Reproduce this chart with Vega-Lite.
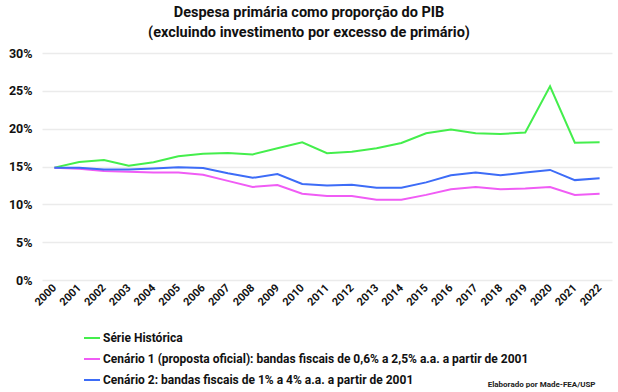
{
  "$schema": "https://vega.github.io/schema/vega-lite/v6.json",
  "width": 570,
  "height": 227,
  "autosize": {"type": "none"},
  "padding": {"left": 42, "top": 53, "right": 6, "bottom": 112},
  "background": "white",
  "title": {
    "text": ["Despesa primária como proporção do PIB", "(excluindo investimento por excesso de primário)"],
    "anchor": "middle",
    "frame": "group",
    "dx": -18,
    "offset": 7,
    "fontSize": 14.5,
    "lineHeight": 20,
    "font": "Roboto",
    "fontWeight": "bold",
    "color": "#111"
  },
  "data": {
    "values": [
      {"ano": "2000", "serie": "Série Histórica", "v": 14.85},
      {"ano": "2001", "serie": "Série Histórica", "v": 15.6},
      {"ano": "2002", "serie": "Série Histórica", "v": 15.85},
      {"ano": "2003", "serie": "Série Histórica", "v": 15.1},
      {"ano": "2004", "serie": "Série Histórica", "v": 15.55},
      {"ano": "2005", "serie": "Série Histórica", "v": 16.35},
      {"ano": "2006", "serie": "Série Histórica", "v": 16.7},
      {"ano": "2007", "serie": "Série Histórica", "v": 16.8},
      {"ano": "2008", "serie": "Série Histórica", "v": 16.6},
      {"ano": "2009", "serie": "Série Histórica", "v": 17.4},
      {"ano": "2010", "serie": "Série Histórica", "v": 18.2},
      {"ano": "2011", "serie": "Série Histórica", "v": 16.75},
      {"ano": "2012", "serie": "Série Histórica", "v": 16.95},
      {"ano": "2013", "serie": "Série Histórica", "v": 17.4},
      {"ano": "2014", "serie": "Série Histórica", "v": 18.1},
      {"ano": "2015", "serie": "Série Histórica", "v": 19.4},
      {"ano": "2016", "serie": "Série Histórica", "v": 19.9},
      {"ano": "2017", "serie": "Série Histórica", "v": 19.4},
      {"ano": "2018", "serie": "Série Histórica", "v": 19.3},
      {"ano": "2019", "serie": "Série Histórica", "v": 19.5},
      {"ano": "2020", "serie": "Série Histórica", "v": 25.6},
      {"ano": "2021", "serie": "Série Histórica", "v": 18.15},
      {"ano": "2022", "serie": "Série Histórica", "v": 18.2},
      {"ano": "2000", "serie": "Cenário 1 (proposta oficial): bandas fiscais de 0,6% a 2,5% a.a. a partir de 2001", "v": 14.85},
      {"ano": "2001", "serie": "Cenário 1 (proposta oficial): bandas fiscais de 0,6% a 2,5% a.a. a partir de 2001", "v": 14.7},
      {"ano": "2002", "serie": "Cenário 1 (proposta oficial): bandas fiscais de 0,6% a 2,5% a.a. a partir de 2001", "v": 14.4},
      {"ano": "2003", "serie": "Cenário 1 (proposta oficial): bandas fiscais de 0,6% a 2,5% a.a. a partir de 2001", "v": 14.3},
      {"ano": "2004", "serie": "Cenário 1 (proposta oficial): bandas fiscais de 0,6% a 2,5% a.a. a partir de 2001", "v": 14.2},
      {"ano": "2005", "serie": "Cenário 1 (proposta oficial): bandas fiscais de 0,6% a 2,5% a.a. a partir de 2001", "v": 14.2},
      {"ano": "2006", "serie": "Cenário 1 (proposta oficial): bandas fiscais de 0,6% a 2,5% a.a. a partir de 2001", "v": 13.9},
      {"ano": "2007", "serie": "Cenário 1 (proposta oficial): bandas fiscais de 0,6% a 2,5% a.a. a partir de 2001", "v": 13.1},
      {"ano": "2008", "serie": "Cenário 1 (proposta oficial): bandas fiscais de 0,6% a 2,5% a.a. a partir de 2001", "v": 12.3},
      {"ano": "2009", "serie": "Cenário 1 (proposta oficial): bandas fiscais de 0,6% a 2,5% a.a. a partir de 2001", "v": 12.55},
      {"ano": "2010", "serie": "Cenário 1 (proposta oficial): bandas fiscais de 0,6% a 2,5% a.a. a partir de 2001", "v": 11.4},
      {"ano": "2011", "serie": "Cenário 1 (proposta oficial): bandas fiscais de 0,6% a 2,5% a.a. a partir de 2001", "v": 11.1},
      {"ano": "2012", "serie": "Cenário 1 (proposta oficial): bandas fiscais de 0,6% a 2,5% a.a. a partir de 2001", "v": 11.1},
      {"ano": "2013", "serie": "Cenário 1 (proposta oficial): bandas fiscais de 0,6% a 2,5% a.a. a partir de 2001", "v": 10.6},
      {"ano": "2014", "serie": "Cenário 1 (proposta oficial): bandas fiscais de 0,6% a 2,5% a.a. a partir de 2001", "v": 10.6},
      {"ano": "2015", "serie": "Cenário 1 (proposta oficial): bandas fiscais de 0,6% a 2,5% a.a. a partir de 2001", "v": 11.25},
      {"ano": "2016", "serie": "Cenário 1 (proposta oficial): bandas fiscais de 0,6% a 2,5% a.a. a partir de 2001", "v": 12.0},
      {"ano": "2017", "serie": "Cenário 1 (proposta oficial): bandas fiscais de 0,6% a 2,5% a.a. a partir de 2001", "v": 12.3},
      {"ano": "2018", "serie": "Cenário 1 (proposta oficial): bandas fiscais de 0,6% a 2,5% a.a. a partir de 2001", "v": 12.0},
      {"ano": "2019", "serie": "Cenário 1 (proposta oficial): bandas fiscais de 0,6% a 2,5% a.a. a partir de 2001", "v": 12.1},
      {"ano": "2020", "serie": "Cenário 1 (proposta oficial): bandas fiscais de 0,6% a 2,5% a.a. a partir de 2001", "v": 12.3},
      {"ano": "2021", "serie": "Cenário 1 (proposta oficial): bandas fiscais de 0,6% a 2,5% a.a. a partir de 2001", "v": 11.25},
      {"ano": "2022", "serie": "Cenário 1 (proposta oficial): bandas fiscais de 0,6% a 2,5% a.a. a partir de 2001", "v": 11.4},
      {"ano": "2000", "serie": "Cenário 2: bandas fiscais de 1% a 4% a.a. a partir de 2001", "v": 14.85},
      {"ano": "2001", "serie": "Cenário 2: bandas fiscais de 1% a 4% a.a. a partir de 2001", "v": 14.85},
      {"ano": "2002", "serie": "Cenário 2: bandas fiscais de 1% a 4% a.a. a partir de 2001", "v": 14.6},
      {"ano": "2003", "serie": "Cenário 2: bandas fiscais de 1% a 4% a.a. a partir de 2001", "v": 14.6},
      {"ano": "2004", "serie": "Cenário 2: bandas fiscais de 1% a 4% a.a. a partir de 2001", "v": 14.75},
      {"ano": "2005", "serie": "Cenário 2: bandas fiscais de 1% a 4% a.a. a partir de 2001", "v": 14.9},
      {"ano": "2006", "serie": "Cenário 2: bandas fiscais de 1% a 4% a.a. a partir de 2001", "v": 14.8},
      {"ano": "2007", "serie": "Cenário 2: bandas fiscais de 1% a 4% a.a. a partir de 2001", "v": 14.1},
      {"ano": "2008", "serie": "Cenário 2: bandas fiscais de 1% a 4% a.a. a partir de 2001", "v": 13.5},
      {"ano": "2009", "serie": "Cenário 2: bandas fiscais de 1% a 4% a.a. a partir de 2001", "v": 14.0},
      {"ano": "2010", "serie": "Cenário 2: bandas fiscais de 1% a 4% a.a. a partir de 2001", "v": 12.7},
      {"ano": "2011", "serie": "Cenário 2: bandas fiscais de 1% a 4% a.a. a partir de 2001", "v": 12.5},
      {"ano": "2012", "serie": "Cenário 2: bandas fiscais de 1% a 4% a.a. a partir de 2001", "v": 12.6},
      {"ano": "2013", "serie": "Cenário 2: bandas fiscais de 1% a 4% a.a. a partir de 2001", "v": 12.2},
      {"ano": "2014", "serie": "Cenário 2: bandas fiscais de 1% a 4% a.a. a partir de 2001", "v": 12.2},
      {"ano": "2015", "serie": "Cenário 2: bandas fiscais de 1% a 4% a.a. a partir de 2001", "v": 12.9},
      {"ano": "2016", "serie": "Cenário 2: bandas fiscais de 1% a 4% a.a. a partir de 2001", "v": 13.85},
      {"ano": "2017", "serie": "Cenário 2: bandas fiscais de 1% a 4% a.a. a partir de 2001", "v": 14.2},
      {"ano": "2018", "serie": "Cenário 2: bandas fiscais de 1% a 4% a.a. a partir de 2001", "v": 13.85},
      {"ano": "2019", "serie": "Cenário 2: bandas fiscais de 1% a 4% a.a. a partir de 2001", "v": 14.2},
      {"ano": "2020", "serie": "Cenário 2: bandas fiscais de 1% a 4% a.a. a partir de 2001", "v": 14.55},
      {"ano": "2021", "serie": "Cenário 2: bandas fiscais de 1% a 4% a.a. a partir de 2001", "v": 13.2},
      {"ano": "2022", "serie": "Cenário 2: bandas fiscais de 1% a 4% a.a. a partir de 2001", "v": 13.45}
    ]
  },
  "mark": {"type": "line", "strokeWidth": 2},
  "encoding": {
    "x": {
      "field": "ano",
      "type": "ordinal",
      "scale": {"type": "point", "padding": 0.5},
      "axis": {
        "title": "Elaborado por Made-FEA/USP",
        "titleAnchor": "end",
        "titleAlign": "right",
        "titleBaseline": "middle",
        "titleX": 553,
        "titleY": 104,
        "titleFontSize": 8,
        "titleFont": "Roboto",
        "titleFontWeight": "bold",
        "titleColor": "#222",
        "labelAngle": -45,
        "labelAlign": "right",
        "labelBaseline": "middle",
        "labelPadding": 6,
        "labelFontSize": 11,
        "labelFont": "Roboto",
        "labelFontWeight": "bold",
        "labelColor": "#111",
        "ticks": false,
        "domain": false,
        "grid": false
      }
    },
    "y": {
      "field": "v",
      "type": "quantitative",
      "scale": {"domain": [0, 30], "nice": false},
      "axis": {
        "title": null,
        "values": [0, 5, 10, 15, 20, 25, 30],
        "labelExpr": "datum.value + '%'",
        "labelFontSize": 12.5,
        "labelFont": "Roboto",
        "labelFontWeight": "bold",
        "labelColor": "#111",
        "labelPadding": 10,
        "ticks": false,
        "domain": false,
        "grid": true,
        "gridColor": "#ebebeb",
        "gridWidth": 1.5
      }
    },
    "color": {
      "field": "serie",
      "type": "nominal",
      "scale": {
        "domain": [
          "Série Histórica",
          "Cenário 1 (proposta oficial): bandas fiscais de 0,6% a 2,5% a.a. a partir de 2001",
          "Cenário 2: bandas fiscais de 1% a 4% a.a. a partir de 2001"
        ],
        "range": ["#44ee4c", "#f05cf5", "#3d6cf7"]
      },
      "legend": {
        "title": null,
        "orient": "none",
        "legendX": 41,
        "legendY": 276,
        "direction": "vertical",
        "symbolType": "stroke",
        "symbolSize": 256,
        "symbolStrokeWidth": 2,
        "labelFontSize": 12,
        "labelFont": "Roboto",
        "labelFontWeight": "bold",
        "labelColor": "#111",
        "labelOffset": 2,
        "labelLimit": 600,
        "rowPadding": 6
      }
    }
  },
  "config": {"view": {"stroke": null}}
}
